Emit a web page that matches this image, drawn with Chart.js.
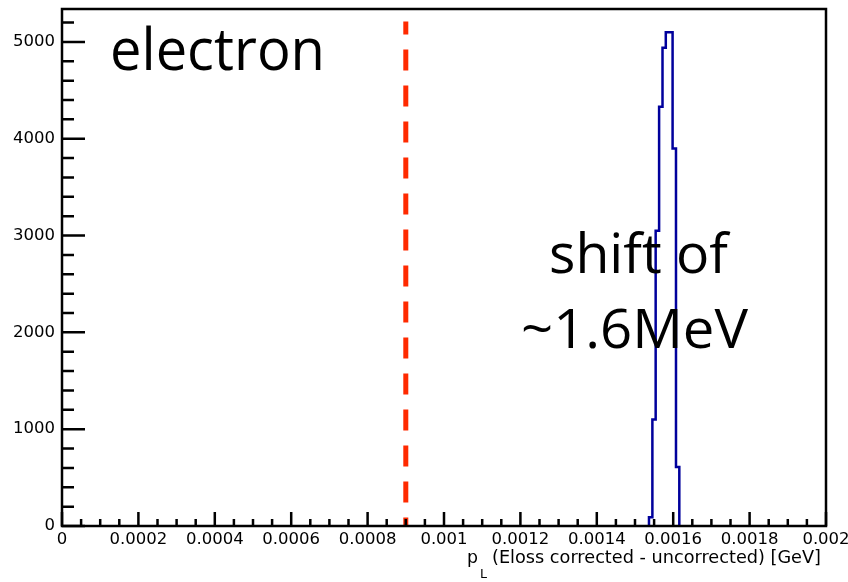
<!DOCTYPE html>
<html>
<head>
<meta charset="utf-8">
<script src="https://cdn.jsdelivr.net/npm/chart.js@4"></script>
<style>
  html, body { margin: 0; padding: 0; background: #fff; }
  #wrap { width: 848px; height: 582px; }
</style>
</head>
<body>
<div id="wrap"><canvas id="chart" width="848" height="582"></canvas></div>
<script>
// histogram bins (GeV edges, counts per bin)
const binEdges = [0.0015366, 0.0015455, 0.0015541, 0.0015631, 0.0015720,
                  0.0015806, 0.0015895, 0.0015984, 0.0016073, 0.0016160];
const binCounts = [90, 1100, 3050, 4330, 4940, 5100, 5100, 3900, 610];

// red dashed reference line
const markerX = 0.0009;
const markerTop = 5210;

// axes
const xMin = 0, xMax = 0.002, xStep = 0.0002, xMinorStep = 0.00005;
const yMin = 0, yMax = 5340, yMinorStep = 200;
const yTickValues = [0, 1000, 2000, 3000, 4000, 5000];

const xTitleSym = 'p';
const xTitleSub = 'L';
const xTitleText = '(Eloss corrected - uncorrected) [GeV]';

const notes = [
    { text: 'electron', x: 110, y: 70, w: 215, size: 58 },
    { text: 'shift of', x: 549, y: 273, w: 179, size: 54 },
    { text: '~1.6MeV', x: 521, y: 348, w: 227, size: 54 },
];

// build the step outline of the histogram
const outline = [{ x: binEdges[0], y: 0 }];
for (let i = 0; i < binCounts.length; i++) {
    outline.push({ x: binEdges[i], y: binCounts[i] });
    outline.push({ x: binEdges[i + 1], y: binCounts[i] });
}
outline.push({ x: binEdges[binEdges.length - 1], y: 0 });

Chart.defaults.font.family = '"DejaVu Sans", sans-serif';
Chart.defaults.color = '#000';

const fmt = v => String(Number(v.toFixed(5)));

// draw text squeezed/stretched to a given width
function fitText(ctx, text, x, y, w, font) {
    ctx.font = font;
    const m = ctx.measureText(text).width;
    ctx.save();
    ctx.translate(x, y);
    ctx.scale(w / m, 1);
    ctx.textAlign = 'left';
    ctx.fillText(text, 0, 0);
    ctx.restore();
}

// white background
const bgPlugin = {
    id: 'bg',
    beforeDraw(chart) {
        const ctx = chart.ctx;
        ctx.save();
        ctx.fillStyle = '#fff';
        ctx.fillRect(0, 0, chart.width, chart.height);
        ctx.restore();
    }
};

// ROOT-like frame with inward ticks, x title, text notes
const framePlugin = {
    id: 'frame',
    afterDraw(chart) {
        const ctx = chart.ctx;
        const a = chart.chartArea;
        const xs = chart.scales.x, ys = chart.scales.y;
        ctx.save();
        ctx.strokeStyle = '#000';
        ctx.lineWidth = 2.5;
        ctx.strokeRect(a.left, a.top, a.right - a.left, a.bottom - a.top);

        ctx.beginPath();
        // y ticks
        for (let k = 0; k * yMinorStep <= yMax; k++) {
            const py = ys.getPixelForValue(k * yMinorStep);
            const len = (k % 5 === 0) ? 23 : 12;
            ctx.moveTo(a.left, py);
            ctx.lineTo(a.left + len, py);
        }
        // x ticks
        for (let k = 0; k * xMinorStep <= xMax + 1e-12; k++) {
            const px = xs.getPixelForValue(k * xMinorStep);
            const len = (k % 4 === 0) ? 14 : 7;
            ctx.moveTo(px, a.bottom);
            ctx.lineTo(px, a.bottom - len);
        }
        ctx.stroke();

        // x axis title
        ctx.fillStyle = '#000';
        ctx.textBaseline = 'alphabetic';
        fitText(ctx, xTitleText, 492, 563, 329, '18px "DejaVu Sans"');
        fitText(ctx, xTitleSym, 467, 563, 11, '18px "DejaVu Sans"');
        fitText(ctx, xTitleSub, 480, 578, 7, '13px "DejaVu Sans"');

        // big notes, stretched to the width seen in the picture
        notes.forEach(n => fitText(ctx, n.text, n.x, n.y, n.w, n.size + 'px "Open Sans"'));
        ctx.restore();
    }
};

new Chart(document.getElementById('chart'), {
    type: 'scatter',
    data: {
        datasets: [
            {
                label: 'histogram',
                data: outline,
                showLine: true,
                borderColor: '#00009c',
                borderWidth: 2.5,
                pointRadius: 0,
                fill: false,
                tension: 0,
            },
            {
                label: 'marker',
                data: [{ x: markerX, y: markerTop }, { x: markerX, y: 0 }],
                showLine: true,
                borderColor: '#ff2a00',
                borderWidth: 5,
                borderDash: [21, 15],
                borderDashOffset: 8,
                pointRadius: 0,
                fill: false,
            }
        ]
    },
    options: {
        responsive: false,
        animation: false,
        events: [],
        layout: { padding: { left: 0, top: 9, right: 22, bottom: 0 } },
        plugins: {
            legend: { display: false },
            tooltip: { enabled: false },
        },
        scales: {
            x: {
                type: 'linear',
                min: xMin,
                max: xMax,
                grid: { display: false, drawTicks: false },
                border: { display: false },
                ticks: {
                    stepSize: xStep,
                    padding: 4,
                    maxRotation: 0,
                    autoSkip: false,
                    font: { size: 16.5 },
                    callback: v => fmt(v),
                },
                afterFit: s => { s.height = 56; s.paddingLeft = 0; s.paddingRight = 0; },
            },
            y: {
                type: 'linear',
                min: yMin,
                max: yMax,
                grid: { display: false, drawTicks: false },
                border: { display: false },
                ticks: {
                    padding: 7,
                    autoSkip: false,
                    font: { size: 16.5 },
                    callback: v => String(v),
                },
                afterBuildTicks: s => { s.ticks = yTickValues.map(v => ({ value: v })); },
                afterFit: s => { s.width = 62; s.paddingTop = 0; s.paddingBottom = 0; },
            }
        }
    },
    plugins: [bgPlugin, framePlugin]
});
</script>
</body>
</html>
